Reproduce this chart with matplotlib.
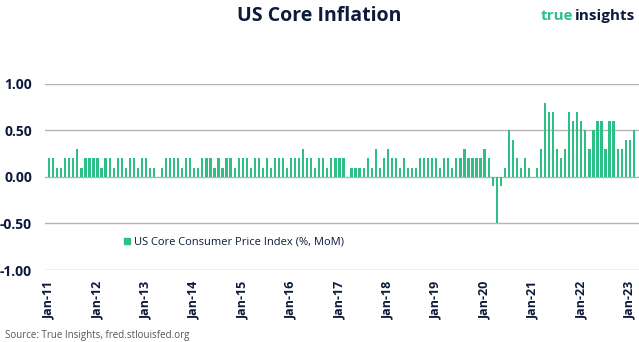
import numpy as np
import matplotlib.pyplot as plt
from matplotlib.lines import Line2D

# monthly core CPI change (%, MoM), Jan-2011 .. Feb-2023
cpi_2011 = [0.2, 0.2, 0.1, 0.1, 0.2, 0.2, 0.2, 0.3, 0.1, 0.2, 0.2, 0.2]
cpi_2012 = [0.2, 0.1, 0.2, 0.2, 0.1, 0.2, 0.2, 0.1, 0.2, 0.2, 0.1, 0.2]
cpi_2013 = [0.2, 0.1, 0.1, 0.0, 0.1, 0.2, 0.2, 0.2, 0.2, 0.1, 0.2, 0.2]
cpi_2014 = [0.1, 0.1, 0.2, 0.2, 0.2, 0.1, 0.2, 0.1, 0.2, 0.2, 0.1, 0.2]
cpi_2015 = [0.2, 0.2, 0.1, 0.2, 0.2, 0.1, 0.2, 0.1, 0.2, 0.2, 0.2, 0.1]
cpi_2016 = [0.2, 0.2, 0.2, 0.3, 0.2, 0.2, 0.1, 0.2, 0.2, 0.1, 0.2, 0.2]
cpi_2017 = [0.2, 0.2, 0.0, 0.1, 0.1, 0.1, 0.1, 0.2, 0.1, 0.3, 0.1, 0.2]
cpi_2018 = [0.3, 0.2, 0.2, 0.1, 0.2, 0.1, 0.1, 0.1, 0.2, 0.2, 0.2, 0.2]
cpi_2019 = [0.2, 0.1, 0.2, 0.2, 0.1, 0.2, 0.2, 0.3, 0.2, 0.2, 0.2, 0.2]
cpi_2020 = [0.3, 0.2, -0.1, -0.5, -0.1, 0.1, 0.5, 0.4, 0.2, 0.1, 0.2, 0.1]
cpi_2021 = [0.0, 0.1, 0.3, 0.8, 0.7, 0.7, 0.3, 0.2, 0.3, 0.7, 0.6, 0.7]
cpi_2022 = [0.6, 0.5, 0.3, 0.5, 0.6, 0.6, 0.3, 0.6, 0.6, 0.3, 0.3, 0.4]
cpi_2023 = [0.4, 0.5]

tick_labels = ["Jan-11", "Jan-12", "Jan-13", "Jan-14", "Jan-15", "Jan-16", "Jan-17",
               "Jan-18", "Jan-19", "Jan-20", "Jan-21", "Jan-22", "Jan-23"]
y_ticks = [-1.0, -0.5, 0.0, 0.5, 1.0]

values = (cpi_2011 + cpi_2012 + cpi_2013 + cpi_2014 + cpi_2015 + cpi_2016 + cpi_2017
          + cpi_2018 + cpi_2019 + cpi_2020 + cpi_2021 + cpi_2022 + cpi_2023)
months = np.arange(len(values))

green = "#2dbf85"
navy = "#0d1a3a"
plt.rcParams["font.family"] = ["Open Sans", "DejaVu Sans"]

fig = plt.figure(figsize=(6.39, 3.42), dpi=100)
ax = fig.add_axes([0.070, 0.2105, 0.930, 0.544])

ax.bar(months, values, width=0.55, color=green, zorder=3)

ax.set_ylim(-1.0, 1.0)
ax.set_xlim(-1.1, 146.3)
ax.set_yticks(y_ticks)
ax.set_yticklabels([f"{v:.2f}" for v in y_ticks], fontsize=10, fontweight="bold", color=navy)
ax.set_xticks(np.arange(0, len(values), 12))
ax.set_xticklabels(tick_labels, rotation=90, fontsize=9, fontweight="bold", color=navy)
ax.tick_params(length=0, axis="y", pad=9)
ax.tick_params(length=0, axis="x", pad=8)
ax.grid(axis="y", color="#b5b5b5", linewidth=1.0, zorder=0)
for side in ax.spines.values():
    side.set_visible(False)

handle = Line2D([], [], marker="s", linestyle="none", color=green, markersize=5)
ax.legend([handle], ["US Core Consumer Price Index (%, MoM)"], loc="center left",
          bbox_to_anchor=(0.128, 0.15), frameon=False, fontsize=8,
          handletextpad=0.0, handlelength=1.2, borderaxespad=0, borderpad=0,
          labelcolor=navy)

fig.text(0.5, 0.953, "US Core Inflation", ha="center", va="center",
         fontsize=14, fontweight="bold", color=navy)
fig.text(0.846, 0.953, "true", ha="left", va="center", fontsize=11,
         fontweight="bold", color=green)
fig.text(0.900, 0.953, "insights", ha="left", va="center", fontsize=11,
         fontweight="bold", color=navy)
fig.text(0.008, 0.018, "Source: True Insights, fred.stlouisfed.org", ha="left",
         va="center", fontsize=7, color="#555555")

fig.savefig("out.png", dpi=100)
